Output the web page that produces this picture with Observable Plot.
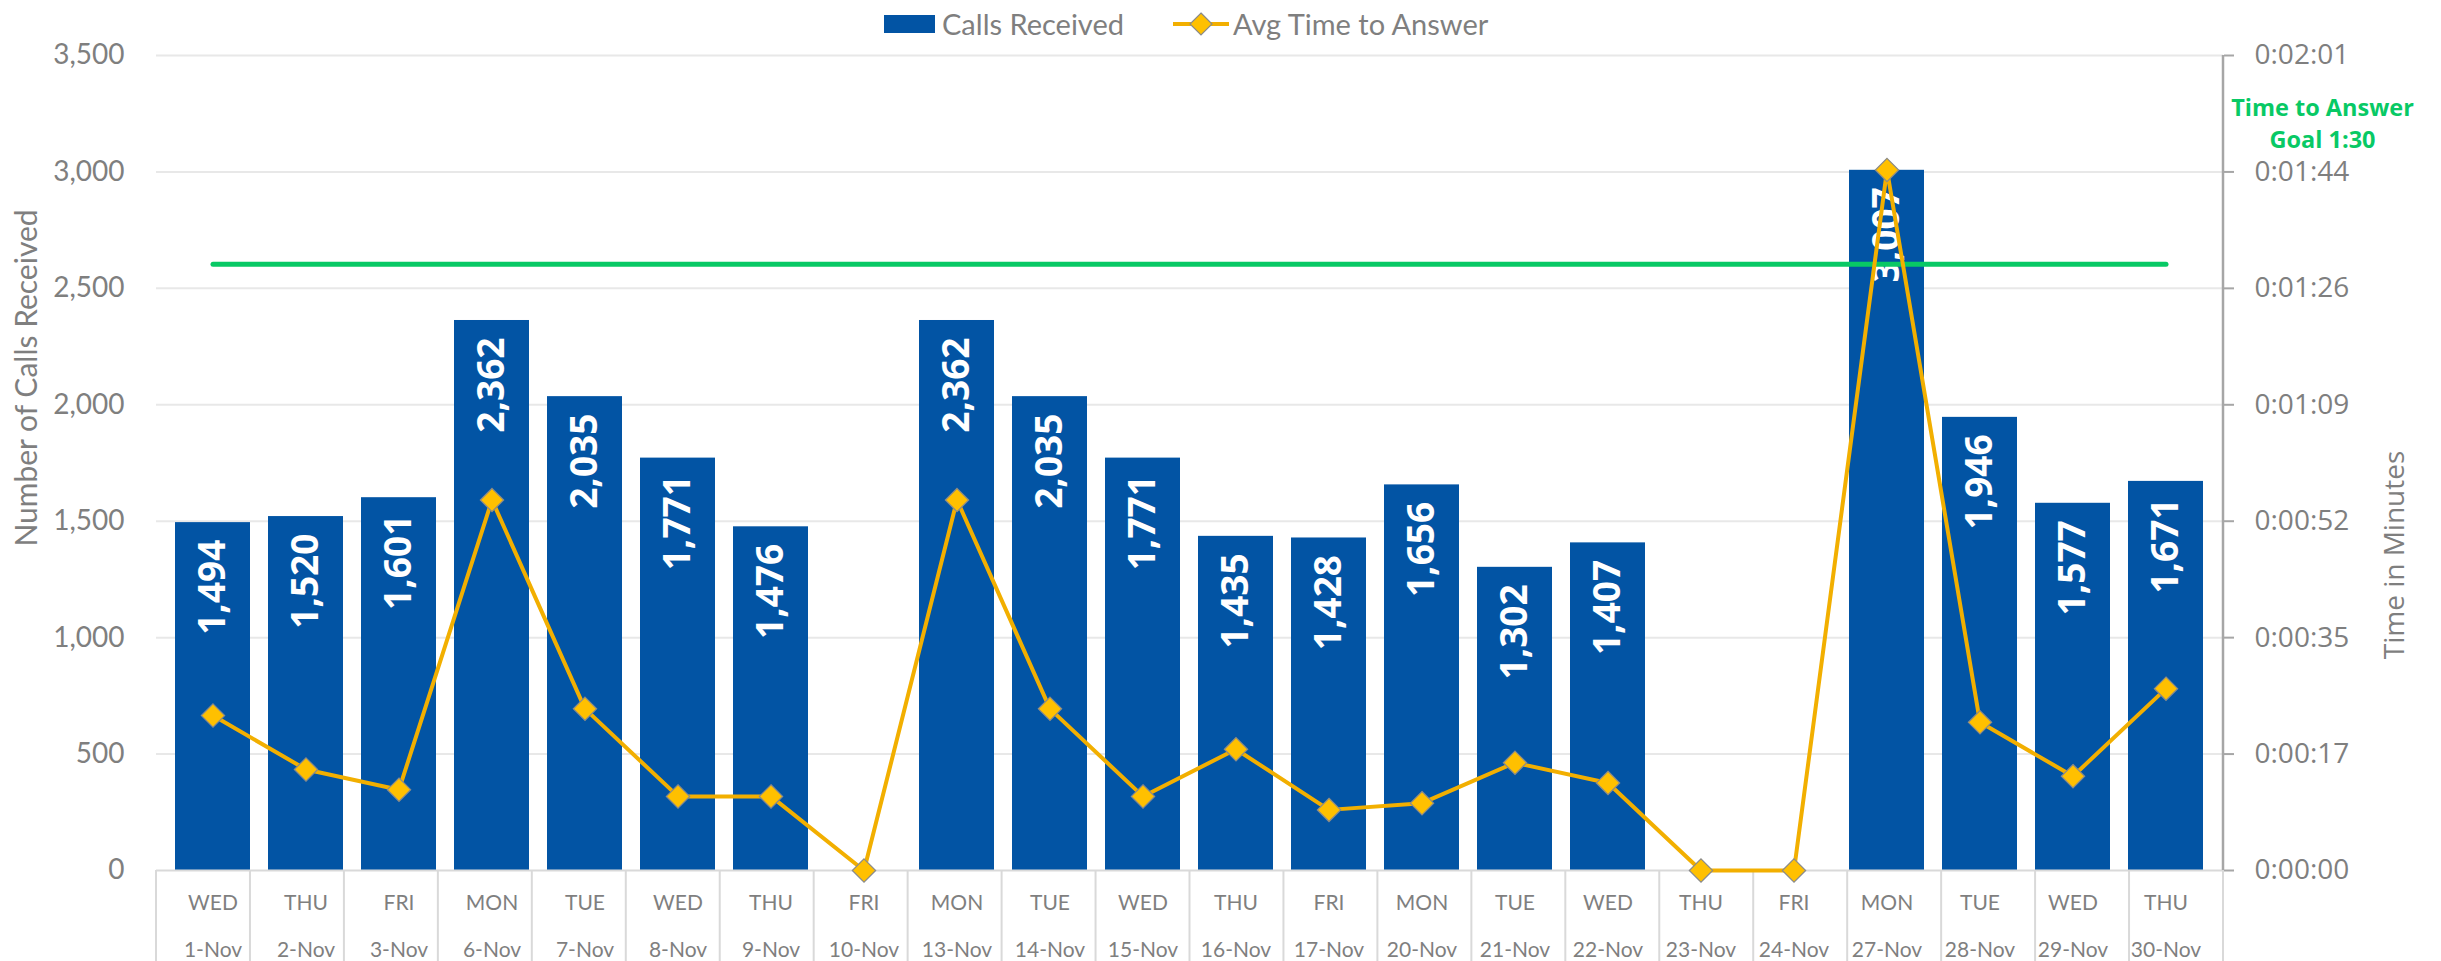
<!DOCTYPE html>
<html>
<head>
<meta charset="utf-8">
<script src="https://cdn.jsdelivr.net/npm/d3@7"></script>
<script src="https://cdn.jsdelivr.net/npm/@observablehq/plot@0.6"></script>
<style>
  body { margin: 0; background: #fff; }
  #wrap { position: relative; width: 2441px; height: 961px; overflow: hidden; background: #fff; }
  #legend { position: absolute; left: 0; top: 0; width: 2441px; height: 48px; z-index: 2;
            font-family: Lato, sans-serif; font-size: 29px; color: #7f7f7f; }
  #legend .item { position: absolute; top: 5px; line-height: 38px; white-space: nowrap; }
  #chart { position: absolute; left: 0; top: 0; }
</style>
</head>
<body>
<div id="wrap">
  <div id="legend">
    <div style="position:absolute;left:884px;top:15px;width:51px;height:18px;background:#0254A4"></div>
    <div class="item" style="left:942px">Calls Received</div>
    <svg style="position:absolute;left:1171px;top:10px" width="60" height="28">
      <line x1="2" x2="58" y1="14" y2="14" stroke="#F2AF00" stroke-width="4"></line>
      <path d="M30,3L41,14L30,25L19,14Z" fill="#FFC000" stroke="#8a8a8a" stroke-width="1.2"></path>
    </svg>
    <div class="item" style="left:1233px">Avg Time to Answer</div>
  </div>
  <div id="chart"></div>
</div>
<script>
// ---- data ----
const dates = ["1-Nov","2-Nov","3-Nov","6-Nov","7-Nov","8-Nov","9-Nov","10-Nov","13-Nov","14-Nov","15-Nov",
               "16-Nov","17-Nov","20-Nov","21-Nov","22-Nov","23-Nov","24-Nov","27-Nov","28-Nov","29-Nov","30-Nov"];
const days = ["WED","THU","FRI","MON","TUE","WED","THU","FRI","MON","TUE","WED",
              "THU","FRI","MON","TUE","WED","THU","FRI","MON","TUE","WED","THU"];
const calls = [1494,1520,1601,2362,2035,1771,1476,null,2362,2035,1771,
               1435,1428,1656,1302,1407,null,null,3007,1946,1577,1671];
// average time to answer, in seconds
const avgSeconds = [23,15,12,55,24,11,11,0,55,24,11,
                    18,9,10,16,13,0,0,104,22,14,27];
const goalSeconds = 90;           // 1:30 goal
const goalLabel = "Time to Answer\nGoal 1:30";
const leftTicks = [0,500,1000,1500,2000,2500,3000,3500];
const leftMax = 3500;             // left axis max (calls)
const rightMaxSeconds = 121;      // right axis max 0:02:01

// ---- derived tables ----
const n = dates.length;
const toLeft = s => s * leftMax / rightMaxSeconds;
const rows = dates.map((d, i) => ({date: d, day: days[i], calls: calls[i], secs: avgSeconds[i], t: toLeft(avgSeconds[i])}));
const barRows = rows.filter(d => d.calls != null);
const goalRows = [dates[0], dates[n - 1]].map(d => ({date: d, t: toLeft(goalSeconds)}));
const fmtTime = v => {
  const s = Math.round(v * rightMaxSeconds / leftMax);
  return `0:${String(Math.floor(s / 60)).padStart(2, "0")}:${String(s % 60).padStart(2, "0")}`;
};

// category table separators + right axis line, derived from plot dimensions
const frameLines = (index, scales, values, dims) => {
  const {width, height, marginLeft, marginRight, marginTop, marginBottom} = dims;
  const g = d3.create("svg:g");
  const right = width - marginRight, bottom = height - marginBottom;
  const step = (right - marginLeft) / n;
  for (let i = 0; i <= n; i++) {
    g.append("line").attr("x1", marginLeft + i * step).attr("x2", marginLeft + i * step)
      .attr("y1", bottom).attr("y2", height).attr("stroke", "#d9d9d9").attr("stroke-width", 2);
  }
  g.append("line").attr("x1", right).attr("x2", right).attr("y1", marginTop).attr("y2", bottom)
    .attr("stroke", "#a6a6a6").attr("stroke-width", 2.5);
  return g.node();
};

const green = "#08C965";
const chart = Plot.plot({
  width: 2441,
  height: 961,
  marginTop: 55,
  marginBottom: 91,
  marginLeft: 156,
  marginRight: 218,
  style: {fontFamily: "Lato, sans-serif", fontSize: "28px", color: "#7f7f7f", background: "transparent"},
  x: {type: "band", domain: dates, paddingInner: 0.19, paddingOuter: 0.095, axis: null},
  y: {domain: [0, leftMax]},
  marks: [
    Plot.gridY(leftTicks.slice(1), {stroke: "#e8e8e8", strokeOpacity: 1, strokeWidth: 2}),
    Plot.axisY(leftTicks, {anchor: "left", tickSize: 0, tickPadding: 32, tickFormat: d3.format(","),
      label: null, color: "#7f7f7f", fontSize: 28, fontFamily: "Lato"}),
    Plot.axisY(leftTicks, {anchor: "right", tickSize: 10, tickPadding: 0, tickFormat: () => "",
      label: null, color: "#a6a6a6", strokeWidth: 2}),
    Plot.axisY(leftTicks, {anchor: "right", tickSize: 0, tickPadding: 31, tickFormat: fmtTime,
      label: null, color: "#7f7f7f", fontSize: 28, fontFamily: "Open Sans"}),
    Plot.barY(barRows, {x: "date", y: "calls", fill: "#0254A4"}),
    Plot.ruleY([0], {stroke: "#d9d9d9", strokeWidth: 2}),
    frameLines,
    Plot.text(barRows, {x: "date", y: "calls", text: d => d3.format(",")(d.calls), rotate: -90,
      textAnchor: "end", lineAnchor: "middle", dy: 17, fill: "white", fontWeight: "bold",
      fontFamily: "Open Sans", fontSize: 37}),
    Plot.lineY(goalRows, {x: "date", y: "t", stroke: green, strokeWidth: 5}),
    Plot.lineY(rows, {x: "date", y: "t", stroke: "#F2AF00", strokeWidth: 4}),
    Plot.dot(rows, {x: "date", y: "t", symbol: "diamond2", r: 10.5, fill: "#FFC000", stroke: "#8a8a8a", strokeWidth: 1.2}),
    Plot.text(rows, {x: "date", text: "day", frameAnchor: "bottom", dy: 33, lineAnchor: "middle",
      fontSize: 21, fontFamily: "Lato", fill: "#7f7f7f"}),
    Plot.text(rows, {x: "date", text: "date", frameAnchor: "bottom", dy: 80, lineAnchor: "middle",
      fontSize: 21, fontFamily: "Lato", fill: "#7f7f7f"}),
    Plot.text(["Number of Calls Received"], {text: d => d, frameAnchor: "left", rotate: -90, dx: -129, dy: -85,
      textAnchor: "middle", lineAnchor: "middle", fontSize: 30, fontFamily: "Lato", fill: "#7f7f7f"}),
    Plot.text(["Time in Minutes"], {text: d => d, frameAnchor: "right", rotate: -90, dx: 172, dy: 92,
      textAnchor: "middle", lineAnchor: "middle", fontSize: 28, fontFamily: "Open Sans", fill: "#7f7f7f"}),
    Plot.text([goalLabel], {text: d => d, frameAnchor: "top-right", dx: 99, dy: 66, textAnchor: "middle",
      lineAnchor: "middle", lineHeight: 1.35, fill: green, fontWeight: "bold", fontFamily: "Open Sans", fontSize: 23.5})
  ]
});
document.getElementById("chart").appendChild(chart);
</script>
</body>
</html>
